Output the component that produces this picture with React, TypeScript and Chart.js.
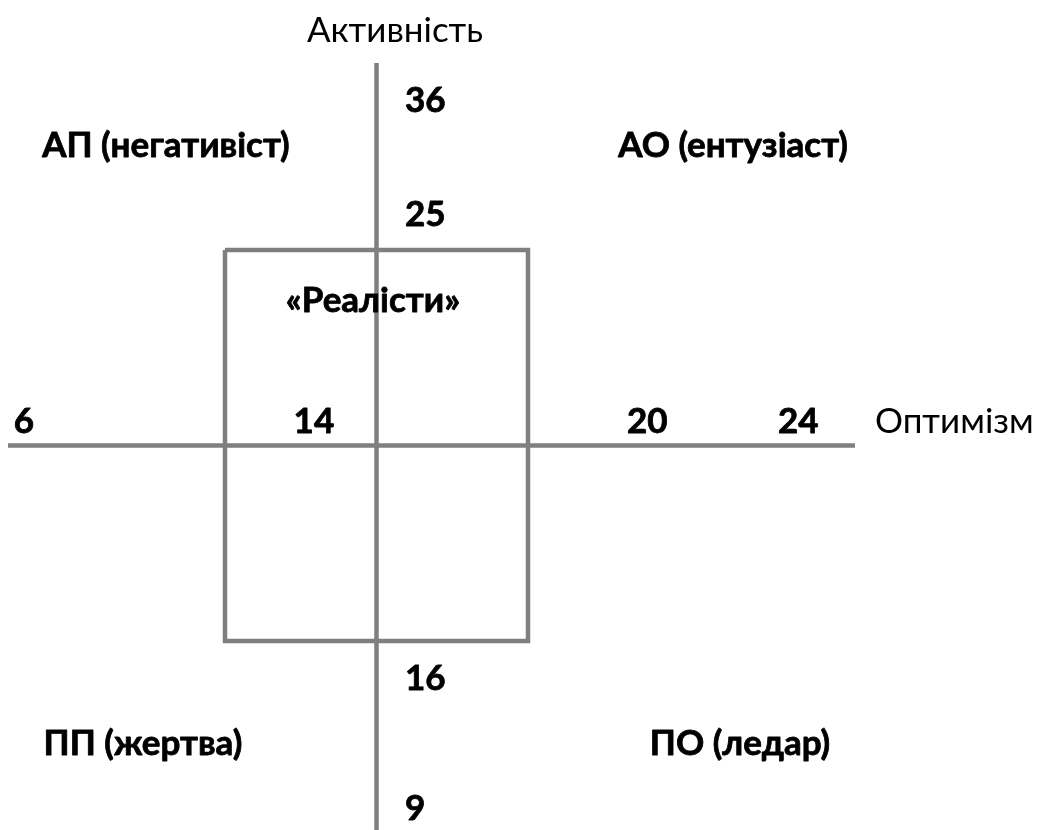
import React, { useEffect, useRef } from "react";
import { Chart, registerables } from "chart.js";

Chart.register(...registerables);

// ---- Diagram content ----
const optimismTicks = ["6", "14", "20", "24"];
const activityTicks = ["36", "25", "16", "9"];
const realistOptimism = [14, 20]; // optimism range of "realists"
const realistActivity = [16, 25]; // activity range of "realists"
const axisTitles = { x: "Оптимізм", y: "Активність" };
const quadrantLabels = ["АП (негативіст)", "АО (ентузіаст)", "ПП (жертва)", "ПО (ледар)"];
const centerLabel = "«Реалісти»";

// ---- Layout (in scale units) ----
const X_MIN = 9.5446;
const X_MAX = 30.198;
const Y_MIN = 11.649;
const Y_MAX = 30.754;
const axisXExtent = [9.703, 26.475];
const axisYExtent = [29.304, 11.6];
const optimismTickX = [10.02, 15.76, 22.36, 25.35];
const optimismTickY = 20.79;
const activityTickX = 17.564;
const activityTickY = [28.176, 25.552, 14.871, 11.88];
const titleXPos = { x: 26.871, y: 20.79 };
const titleYPos = { x: 17.366, y: 29.787 };
const quadrantX = [12.832, 24.06, 12.376, 24.198];
const quadrantY = [27.14, 27.14, 13.375, 13.375];
const centerPos = { x: 16.93, y: 23.572 };

const LINE_COLOR = "#7f7f7f";
const TEXT_COLOR = "#000000";
const BOLD_FONT = "bold 35px Lato, 'Open Sans', sans-serif";
const REG_FONT = "35px Lato, 'Open Sans', sans-serif";

export default function App() {
  const ref = useRef<HTMLCanvasElement>(null);

  useEffect(() => {
    document.body.style.margin = "0";
    const canvas = ref.current;
    if (!canvas) return;
    const crossX = (realistOptimism[0] + realistOptimism[1]) / 2;
    const crossY = (realistActivity[0] + realistActivity[1]) / 2;

    const labelsPlugin = {
      id: "diagramLabels",
      afterDraw(chart: any) {
        const ctx = chart.ctx as CanvasRenderingContext2D;
        const xs = chart.scales.x;
        const ys = chart.scales.y;
        const px = (v: number) => xs.getPixelForValue(v);
        const py = (v: number) => ys.getPixelForValue(v);
        ctx.save();
        ctx.fillStyle = TEXT_COLOR;
        ctx.strokeStyle = TEXT_COLOR;
        ctx.textBaseline = "alphabetic";
        ctx.lineJoin = "round";

        ctx.font = REG_FONT;
        ctx.textAlign = "left";
        ctx.fillText(axisTitles.x, px(titleXPos.x), py(titleXPos.y));
        ctx.textAlign = "center";
        ctx.fillText(axisTitles.y, px(titleYPos.x), py(titleYPos.y));

        ctx.font = BOLD_FONT;
        ctx.lineWidth = 0.8;
        const bold = (t: string, x: number, y: number) => {
          ctx.fillText(t, x, y);
          ctx.strokeText(t, x, y);
        };
        ctx.textAlign = "center";
        optimismTicks.forEach((t, i) => bold(t, px(optimismTickX[i]), py(optimismTickY)));
        ctx.textAlign = "left";
        activityTicks.forEach((t, i) => bold(t, px(activityTickX), py(activityTickY[i])));
        ctx.textAlign = "center";
        quadrantLabels.forEach((t, i) => bold(t, px(quadrantX[i]), py(quadrantY[i])));
        bold(centerLabel, px(centerPos.x), py(centerPos.y));
        ctx.restore();
      },
    };

    const lineDs = (data: { x: number; y: number }[]) => ({
      data,
      showLine: true,
      borderColor: LINE_COLOR,
      borderWidth: 4.5,
      pointRadius: 0,
      fill: false,
      tension: 0,
      borderJoinStyle: "miter" as const,
    });

    const chart = new Chart(canvas, {
      type: "scatter",
      data: {
        datasets: [
          lineDs([
            { x: axisXExtent[0], y: crossY },
            { x: axisXExtent[1], y: crossY },
          ]),
          lineDs([
            { x: crossX, y: axisYExtent[0] },
            { x: crossX, y: axisYExtent[1] },
          ]),
          lineDs([
            { x: realistOptimism[0], y: realistActivity[1] },
            { x: realistOptimism[1], y: realistActivity[1] },
            { x: realistOptimism[1], y: realistActivity[0] },
            { x: realistOptimism[0], y: realistActivity[0] },
            { x: realistOptimism[0], y: realistActivity[1] },
          ]),
        ],
      },
      options: {
        animation: false,
        responsive: false,
        devicePixelRatio: 1,
        layout: { padding: 0 },
        plugins: { legend: { display: false }, tooltip: { enabled: false } },
        scales: {
          x: { type: "linear", min: X_MIN, max: X_MAX, display: false },
          y: { type: "linear", min: Y_MIN, max: Y_MAX, display: false },
        },
      },
      plugins: [labelsPlugin],
    });
    return () => chart.destroy();
  }, []);

  return (
    <div style={{ width: 1043, height: 830, background: "#fff" }}>
      <canvas ref={ref} width={1043} height={830} style={{ display: "block" }} />
    </div>
  );
}
